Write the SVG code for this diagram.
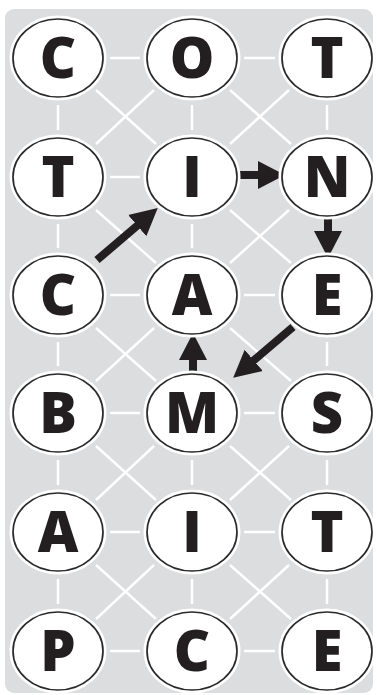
<svg xmlns="http://www.w3.org/2000/svg" width="377" height="695" viewBox="0 0 377 695">
<style>
.bg{fill:#dcdddf}
.grid line{stroke:#ffffff;stroke-width:2.5}
.halo{fill:#ffffff;stroke:#ffffff;stroke-width:7}
.ring{fill:none;stroke:#2a2a2a;stroke-width:1.7}
.lt{font-family:"Open Sans","DejaVu Sans",sans-serif;font-weight:800;font-size:56px;fill:#231f20;text-anchor:middle}
.arr line{stroke:#231f20;stroke-width:8;marker-end:url(#head)}
</style>
<defs>
<marker id="head" markerUnits="userSpaceOnUse" viewBox="0 -15 28 30" markerWidth="28" markerHeight="30" refX="1" refY="0" orient="auto">
<path d="M0,-14 L27,0 L0,14 z" fill="#231f20"/>
</marker>
</defs>
<rect class="bg" x="5" y="9" width="368" height="684" rx="9"/>
<g id="connectors">
<g class="grid">
<line x1="110" y1="58" x2="140" y2="58"/><line x1="244" y1="58" x2="275" y2="58"/>
<line x1="110" y1="177" x2="140" y2="177"/>
<line x1="110" y1="295" x2="140" y2="295"/><line x1="244" y1="295" x2="275" y2="295"/>
<line x1="110" y1="413" x2="140" y2="413"/><line x1="244" y1="413" x2="275" y2="413"/>
<line x1="110" y1="532" x2="140" y2="532"/><line x1="244" y1="532" x2="275" y2="532"/>
<line x1="110" y1="651" x2="140" y2="651"/><line x1="244" y1="651" x2="275" y2="651"/>
<line x1="58" y1="105" x2="58" y2="130"/><line x1="192" y1="105" x2="192" y2="130"/><line x1="327" y1="105" x2="327" y2="130"/>
<line x1="58" y1="224" x2="58" y2="248"/><line x1="192" y1="224" x2="192" y2="248"/>
<line x1="58" y1="342" x2="58" y2="366"/><line x1="327" y1="342" x2="327" y2="366"/>
<line x1="58" y1="460" x2="58" y2="485"/><line x1="192" y1="460" x2="192" y2="485"/><line x1="327" y1="460" x2="327" y2="485"/>
<line x1="58" y1="579" x2="58" y2="604"/><line x1="192" y1="579" x2="192" y2="604"/><line x1="327" y1="579" x2="327" y2="604"/>
<line x1="96" y1="90" x2="156" y2="144"/><line x1="154" y1="90" x2="96" y2="144"/>
<line x1="230" y1="90" x2="291" y2="144"/><line x1="289" y1="90" x2="230" y2="144"/>
<line x1="96" y1="210" x2="156" y2="263"/>
<line x1="230" y1="210" x2="291" y2="263"/><line x1="289" y1="210" x2="230" y2="263"/>
<line x1="96" y1="328" x2="156" y2="381"/><line x1="154" y1="328" x2="96" y2="381"/>
<line x1="230" y1="328" x2="291" y2="381"/>
<line x1="96" y1="446" x2="156" y2="500"/><line x1="154" y1="446" x2="96" y2="500"/>
<line x1="230" y1="446" x2="291" y2="500"/><line x1="289" y1="446" x2="230" y2="500"/>
<line x1="96" y1="565" x2="156" y2="619"/><line x1="154" y1="565" x2="96" y2="619"/>
<line x1="230" y1="565" x2="291" y2="619"/><line x1="289" y1="565" x2="230" y2="619"/>
</g>
<g class="arr">
<line x1="97" y1="260" x2="138" y2="225"/>
<line x1="240" y1="175" x2="259" y2="175"/>
<line x1="328" y1="218" x2="328" y2="232"/>
<line x1="293" y1="327" x2="253" y2="361"/>
<line x1="193" y1="372" x2="193" y2="359"/>
</g>
</g>
<g id="n11"><ellipse class="halo" cx="58" cy="58" rx="45" ry="39"/><ellipse class="ring" cx="58" cy="58" rx="45" ry="39"/><text class="lt" x="58" y="78">C</text></g>
<g id="n12"><ellipse class="halo" cx="192" cy="58" rx="45" ry="39"/><ellipse class="ring" cx="192" cy="58" rx="45" ry="39"/><text class="lt" x="192" y="78">O</text></g>
<g id="n13"><ellipse class="halo" cx="327" cy="58" rx="45" ry="39"/><ellipse class="ring" cx="327" cy="58" rx="45" ry="39"/><text class="lt" x="327" y="78">T</text></g>
<g id="n21"><ellipse class="halo" cx="58" cy="177" rx="45" ry="39"/><ellipse class="ring" cx="58" cy="177" rx="45" ry="39"/><text class="lt" x="58" y="197">T</text></g>
<g id="n22"><ellipse class="halo" cx="192" cy="177" rx="45" ry="39"/><ellipse class="ring" cx="192" cy="177" rx="45" ry="39"/><text class="lt" x="192" y="197">I</text></g>
<g id="n23"><ellipse class="halo" cx="327" cy="177" rx="45" ry="39"/><ellipse class="ring" cx="327" cy="177" rx="45" ry="39"/><text class="lt" x="327" y="197">N</text></g>
<g id="n31"><ellipse class="halo" cx="58" cy="295" rx="45" ry="39"/><ellipse class="ring" cx="58" cy="295" rx="45" ry="39"/><text class="lt" x="58" y="315">C</text></g>
<g id="n32"><ellipse class="halo" cx="192" cy="295" rx="45" ry="39"/><ellipse class="ring" cx="192" cy="295" rx="45" ry="39"/><text class="lt" x="192" y="315">A</text></g>
<g id="n33"><ellipse class="halo" cx="327" cy="295" rx="45" ry="39"/><ellipse class="ring" cx="327" cy="295" rx="45" ry="39"/><text class="lt" x="327" y="315">E</text></g>
<g id="n41"><ellipse class="halo" cx="58" cy="413" rx="45" ry="39"/><ellipse class="ring" cx="58" cy="413" rx="45" ry="39"/><text class="lt" x="58" y="433">B</text></g>
<g id="n42"><ellipse class="halo" cx="192" cy="413" rx="45" ry="39"/><ellipse class="ring" cx="192" cy="413" rx="45" ry="39"/><text class="lt" x="192" y="433">M</text></g>
<g id="n43"><ellipse class="halo" cx="327" cy="413" rx="45" ry="39"/><ellipse class="ring" cx="327" cy="413" rx="45" ry="39"/><text class="lt" x="327" y="433">S</text></g>
<g id="n51"><ellipse class="halo" cx="58" cy="532" rx="45" ry="39"/><ellipse class="ring" cx="58" cy="532" rx="45" ry="39"/><text class="lt" x="58" y="552">A</text></g>
<g id="n52"><ellipse class="halo" cx="192" cy="532" rx="45" ry="39"/><ellipse class="ring" cx="192" cy="532" rx="45" ry="39"/><text class="lt" x="192" y="552">I</text></g>
<g id="n53"><ellipse class="halo" cx="327" cy="532" rx="45" ry="39"/><ellipse class="ring" cx="327" cy="532" rx="45" ry="39"/><text class="lt" x="327" y="552">T</text></g>
<g id="n61"><ellipse class="halo" cx="58" cy="651" rx="45" ry="39"/><ellipse class="ring" cx="58" cy="651" rx="45" ry="39"/><text class="lt" x="58" y="671">P</text></g>
<g id="n62"><ellipse class="halo" cx="192" cy="651" rx="45" ry="39"/><ellipse class="ring" cx="192" cy="651" rx="45" ry="39"/><text class="lt" x="192" y="671">C</text></g>
<g id="n63"><ellipse class="halo" cx="327" cy="651" rx="45" ry="39"/><ellipse class="ring" cx="327" cy="651" rx="45" ry="39"/><text class="lt" x="327" y="671">E</text></g>
</svg>
